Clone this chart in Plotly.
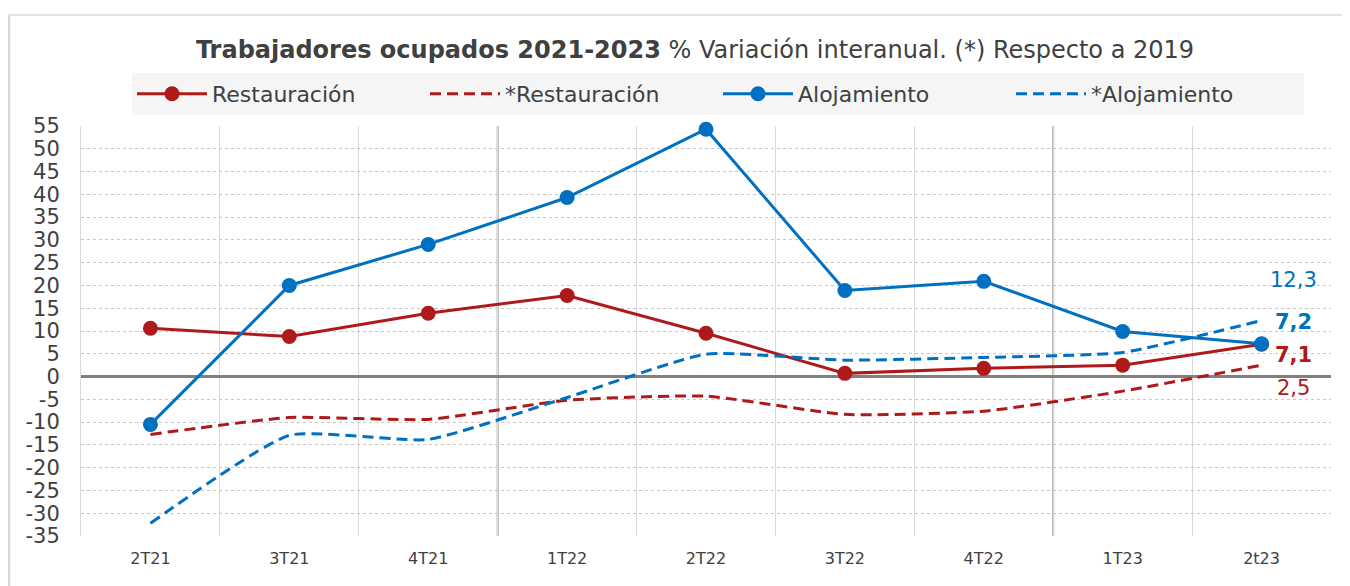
import plotly.graph_objects as go

categories = ["2T21", "3T21", "4T21", "1T22", "2T22", "3T22", "4T22", "1T23", "2t23"]
restauracion = [10.6, 8.8, 13.9, 17.8, 9.5, 0.7, 1.8, 2.5, 7.1]
restauracion_2019 = [-12.7, -9.0, -9.4, -5.2, -4.3, -8.3, -7.6, -3.2, 2.5]
alojamiento = [-10.5, 20.0, 29.0, 39.3, 54.3, 18.9, 20.9, 9.9, 7.2]
alojamiento_2019 = [-32.2, -12.9, -13.8, -4.6, 4.9, 3.6, 4.2, 5.3, 12.3]
y_ticks = list(range(-35, 60, 5))

RED = "#AE1A1A"
BLUE = "#0070C0"
FONT = "DejaVu Sans"
TXT = "#404040"

# page has an 8px body margin: figure coordinates = reference pixels - 8
OFF = 8
W, H = 1350 - OFF, 586 - OFF
L, T = 81 - OFF, 126 - OFF
pw, ph = 1250, 410
R, B = W - L - pw, H - T - ph


def px_x(x):
    return (x - OFF - L) / pw


def px_y(y):
    return (T + ph - (y - OFF)) / ph


DASH = "11px,6px"
fig = go.Figure()
fig.add_trace(go.Scatter(x=categories, y=restauracion, name="Restauración", mode="lines+markers",
                         line=dict(color=RED, width=3), marker=dict(size=15, color=RED),
                         cliponaxis=False))
fig.add_trace(go.Scatter(x=categories, y=restauracion_2019, name="*Restauración", mode="lines",
                         line=dict(color=RED, width=3, dash=DASH, shape="spline", smoothing=0.5)))
fig.add_trace(go.Scatter(x=categories, y=alojamiento, name="Alojamiento", mode="lines+markers",
                         line=dict(color=BLUE, width=3), marker=dict(size=15, color=BLUE),
                         cliponaxis=False))
fig.add_trace(go.Scatter(x=categories, y=alojamiento_2019, name="*Alojamiento", mode="lines",
                         line=dict(color=BLUE, width=3, dash=DASH, shape="spline", smoothing=0.5)))

last = categories[-1]
labels = [
    (alojamiento_2019[-1], BLUE, False, 41),
    (alojamiento[-1], BLUE, True, 22),
    (restauracion[-1], RED, True, -11),
    (restauracion_2019[-1], RED, False, -23),
]
for val, col, bold, ys in labels:
    txt = f"{val:.1f}".replace(".", ",")
    if bold:
        txt = f"<b>{txt}</b>"
    fig.add_annotation(x=last, y=val, text=txt, showarrow=False, xanchor="center",
                       xshift=32, yshift=ys, font=dict(family=FONT, size=21, color=col))

# year separators
for xv in [2.5, 6.5]:
    fig.add_shape(type="line", xref="x", yref="paper", x0=xv, x1=xv, y0=0, y1=1,
                  line=dict(color="#A6A6A6", width=2), layer="below")

# outer frame (top and left)
fig.add_shape(type="line", xref="paper", yref="paper", x0=px_x(8), x1=px_x(1360),
              y0=px_y(15), y1=px_y(15), line=dict(color="#D9D9D9", width=1.5))
fig.add_shape(type="line", xref="paper", yref="paper", x0=px_x(9), x1=px_x(9),
              y0=px_y(15), y1=px_y(600), line=dict(color="#D9D9D9", width=2.5))

fig.update_layout(
    width=W, height=H,
    margin=dict(l=L, r=R, t=T, b=B, autoexpand=False),
    paper_bgcolor="white", plot_bgcolor="white",
    font=dict(family=FONT, color=TXT),
    title=dict(text="<b>Trabajadores ocupados 2021-2023</b> % Variación interanual. (*) Respecto a 2019",
               x=(695 - OFF) / W, xanchor="center", y=1 - (50 - OFF) / H, yanchor="middle",
               xref="container", yref="container",
               font=dict(family=FONT, size=24, color=TXT)),
    legend=dict(orientation="h", x=px_x(718), xanchor="center", y=px_y(73), yanchor="top",
                bgcolor="#F5F5F5", font=dict(family=FONT, size=22, color=TXT),
                itemwidth=70, entrywidth=208, entrywidthmode="pixels",
                tracegroupgap=0),
    showlegend=True,
)
fig.update_xaxes(type="category", categoryorder="array", categoryarray=categories,
                 range=[-0.5, len(categories) - 0.5], tickson="boundaries",
                 showgrid=True, gridcolor="#D9D9D9", gridwidth=1, ticks="", ticklen=0,
                 showline=False, zeroline=False, ticklabelstandoff=11,
                 tickfont=dict(family=FONT, size=16, color=TXT))
fig.update_yaxes(range=[-35, 55], tickvals=y_ticks, ticktext=[str(v) for v in y_ticks],
                 showgrid=True, gridcolor="#C8C8C8", gridwidth=1, griddash="dot",
                 zeroline=True, zerolinecolor="#808080", zerolinewidth=2.5,
                 showline=True, linecolor="#D9D9D9", linewidth=1, ticks="",
                 ticklabelstandoff=16,
                 tickfont=dict(family=FONT, size=21, color=TXT))

fig.write_html("out.html")
